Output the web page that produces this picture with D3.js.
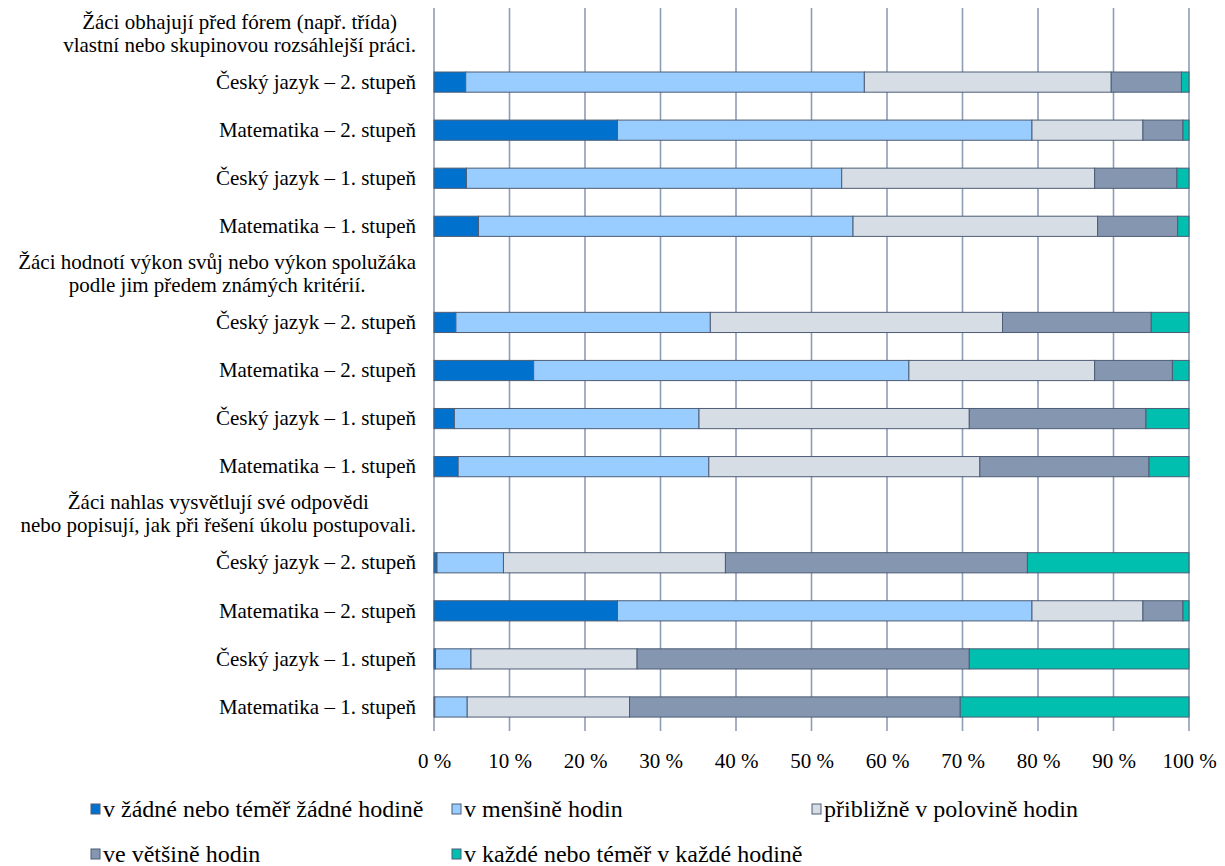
<!DOCTYPE html>
<html lang="cs">
<head>
<meta charset="utf-8">
<script src="https://cdn.jsdelivr.net/npm/d3@7"></script>
<style>
  html, body { margin: 0; padding: 0; background: #fff; }
  svg { display: block; }
  text { font-family: "Liberation Serif", "Times New Roman", serif; fill: #000; }
</style>
</head>
<body>
<svg id="chart" width="1225" height="866"></svg>
<script>
// Group headings (two lines each) and the four rows inside every group
const groupTitles = [
  ["Žáci obhajují před fórem (např. třída)", "vlastní nebo skupinovou rozsáhlejší práci."],
  ["Žáci hodnotí výkon svůj nebo výkon spolužáka", "podle jim předem známých kritérií."],
  ["Žáci nahlas vysvětlují své odpovědi", "nebo popisují, jak při řešení úkolu postupovali."]
];
const rowLabels = [
  "Český jazyk – 2. stupeň",
  "Matematika – 2. stupeň",
  "Český jazyk – 1. stupeň",
  "Matematika – 1. stupeň"
];

const seriesNames = [
  "v žádné nebo téměř žádné hodině",
  "v menšině hodin",
  "přibližně v polovině hodin",
  "ve většině hodin",
  "v každé nebo téměř v každé hodině"
];
const seriesColors = ["#0071cc", "#99ccff", "#d6dde5", "#8596b0", "#00bfae"];

// Shares in % for the 12 rows (group 1 rows, group 2 rows, group 3 rows)
const zadne    = [4.2, 24.3, 4.3, 5.9,   2.9, 13.2, 2.7, 3.2,   0.4, 24.3, 0.2, 0.1];
const mensine  = [52.8, 54.9, 49.7, 49.6, 33.7, 49.7, 32.4, 33.2, 8.8, 54.9, 4.7, 4.3];
const polovine = [32.7, 14.7, 33.5, 32.4, 38.7, 24.6, 35.8, 35.9, 29.4, 14.7, 22.0, 21.5];
const vetsine  = [9.3, 5.3, 10.9, 10.6,  19.7, 10.3, 23.4, 22.4, 40.0, 5.3, 44.0, 43.8];
const kazde    = [1.0, 0.8, 1.6, 1.5,    5.0, 2.2, 5.7, 5.3,     21.4, 0.8, 29.1, 30.3];

const tickValues = [0, 10, 20, 30, 40, 50, 60, 70, 80, 90, 100];

const seriesKeys = ["zadne", "mensine", "polovine", "vetsine", "kazde"];
const seriesData = [zadne, mensine, polovine, vetsine, kazde];

// Build the slot list: a heading slot followed by its four rows, per group
const slots = [];
const rows = [];
groupTitles.forEach((title, g) => {
  slots.push({ id: "h" + g, type: "header", lines: title });
  rowLabels.forEach((lab, r) => {
    const i = g * 4 + r;
    const row = { id: "r" + i, type: "row", label: lab };
    seriesKeys.forEach((k, s) => row[k] = seriesData[s][i]);
    slots.push(row);
    rows.push(row);
  });
});

const svg = d3.select("#chart");
const FONT = 21;
const LEGEND_FONT = 24;

const x = d3.scaleLinear().domain([0, 100]).range([434, 1189]);
const y = d3.scaleBand().domain(slots.map(d => d.id)).range([10, 731]).paddingInner(0.58).paddingOuter(0.29);

// Vertical gridlines
svg.append("g")
  .selectAll("line")
  .data(tickValues)
  .join("line")
  .attr("x1", d => x(d)).attr("x2", d => x(d))
  .attr("y1", 8).attr("y2", 731)
  .attr("stroke", "#8e9cb4")
  .attr("stroke-width", 1.6);

// Stacked bars
const stack = d3.stack().keys(seriesKeys);
const stacked = stack(rows);
const color = d3.scaleOrdinal().domain(seriesKeys).range(seriesColors);

svg.append("g")
  .selectAll("g")
  .data(stacked)
  .join("g")
  .attr("fill", d => color(d.key))
  .selectAll("rect")
  .data(d => d)
  .join("rect")
  .attr("x", d => x(d[0]))
  .attr("y", d => y(d.data.id))
  .attr("width", d => Math.max(0, x(d[1]) - x(d[0])))
  .attr("height", y.bandwidth())
  .attr("stroke", "#4d5d76")
  .attr("stroke-width", 1);

// Row labels
svg.append("g")
  .selectAll("text")
  .data(slots.filter(d => d.type === "row"))
  .join("text")
  .attr("x", 416)
  .attr("y", d => y(d.id) + y.bandwidth() / 2)
  .attr("dy", "0.32em")
  .attr("text-anchor", "end")
  .style("font-size", FONT + "px")
  .text(d => d.label);

// Group headings: lines centred on the widest line, block right-aligned
const headers = svg.append("g")
  .selectAll("g")
  .data(slots.filter(d => d.type === "header"))
  .join("g");

headers.each(function (d) {
  const g = d3.select(this);
  const cy = y(d.id) + y.bandwidth() / 2;
  const texts = g.selectAll("text")
    .data(d.lines)
    .join("text")
    .attr("y", (l, i) => cy + (i === 0 ? -12 : 11))
    .attr("dy", "0.32em")
    .attr("text-anchor", "middle")
    .style("font-size", FONT + "px")
    .text(l => l);
  let maxW = 0;
  texts.each(function () { maxW = Math.max(maxW, this.getComputedTextLength()); });
  texts.attr("x", 416 - maxW / 2);
});

// Bottom axis labels
const axis = d3.axisBottom(x).tickValues(tickValues).tickFormat(d => d + " %").tickSize(0).tickPadding(0);
const axisG = svg.append("g").attr("transform", "translate(0,761)").call(axis);
axisG.select(".domain").remove();
axisG.selectAll("text")
  .attr("dy", "0.32em")
  .attr("y", 0)
  .style("font-size", FONT + "px")
  .style("font-family", "'Liberation Serif', 'Times New Roman', serif")
  .attr("fill", "#000");

// Legend
const legendPos = [[91, 809], [452, 809], [812, 809], [91, 854], [452, 854]];
const legend = svg.append("g")
  .selectAll("g")
  .data(seriesNames)
  .join("g")
  .attr("transform", (d, i) => `translate(${legendPos[i][0]},${legendPos[i][1]})`);

legend.append("rect")
  .attr("x", 0).attr("y", -5)
  .attr("width", 9).attr("height", 10)
  .attr("fill", (d, i) => seriesColors[i])
  .attr("stroke", "#4d5d76")
  .attr("stroke-width", 1);

legend.append("text")
  .attr("x", 12)
  .attr("y", 0)
  .attr("dy", "0.32em")
  .style("font-size", LEGEND_FONT + "px")
  .text(d => d);
</script>
</body>
</html>
